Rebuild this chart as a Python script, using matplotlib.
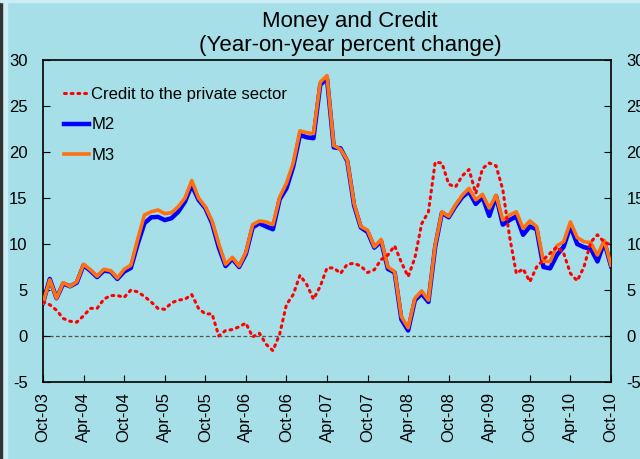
import numpy as np
import matplotlib.pyplot as plt
from matplotlib.patches import Rectangle

plt.rcParams['font.family'] = ['Liberation Sans', 'DejaVu Sans']
plt.rcParams['axes.unicode_minus'] = False

# monthly, Oct-03 .. Oct-10
credit = [3.7, 3.4, 2.8, 1.9, 1.6, 1.5, 2.2, 3.0, 3.0, 4.0,
          4.4, 4.4, 4.2, 5.0, 4.8, 4.3, 3.7, 3.0, 2.9, 3.6,
          3.9, 4.0, 4.5, 3.0, 2.4, 2.4, 0.0, 0.6, 0.7, 1.0,
          1.4, -0.1, 0.3, -0.9, -1.6, 0.2, 3.4, 4.5, 6.6, 5.6,
          4.0, 5.4, 7.4, 7.4, 6.8, 7.8, 7.9, 7.6, 6.9, 7.2,
          8.3, 8.8, 9.8, 8.0, 6.45, 8.5, 12.2, 13.5, 18.9, 18.8,
          16.5, 16.2, 17.4, 18.1, 15.5, 18.2, 18.8, 18.5, 15.9, 10.8,
          6.8, 7.3, 5.9, 7.5, 8.3, 9.0, 9.7, 9.0, 6.8, 6.0,
          7.5, 10.2, 11.0, 10.2, 9.9]
m2 = [3.6, 6.2, 4.1, 5.7, 5.4, 5.8, 7.7, 7.1, 6.4, 7.1,
      7.0, 6.2, 7.0, 7.4, 10.0, 12.25, 12.9, 12.95, 12.6, 12.8,
      13.5, 14.6, 16.4, 14.8, 13.9, 12.25, 9.6, 7.6, 8.4, 7.5,
      8.9, 11.8, 12.25, 11.9, 11.6, 14.85, 16.05, 18.4, 21.85, 21.6,
      21.5, 27.3, 28.0, 20.5, 20.4, 19.0, 14.2, 11.8, 11.3, 9.6,
      10.3, 7.3, 6.9, 1.8, 0.6, 3.9, 4.6, 3.7, 9.7, 13.4,
      12.9, 14.1, 15.1, 15.7, 14.35, 15.1, 13.05, 15.2, 12.1, 12.6,
      13.0, 11.0, 11.9, 11.6, 7.5, 7.35, 8.8, 9.7, 11.95, 10.0,
      9.65, 9.5, 8.1, 10.2, 7.6]
m3 = [3.6, 6.1, 4.1, 5.8, 5.4, 5.9, 7.8, 7.2, 6.5, 7.25,
      7.1, 6.3, 7.25, 7.7, 10.5, 13.15, 13.5, 13.7, 13.3, 13.4,
      14.05, 15.0, 16.9, 15.0, 14.05, 12.5, 10.0, 7.8, 8.55, 7.6,
      9.1, 12.1, 12.5, 12.4, 12.1, 15.1, 16.6, 18.8, 22.3, 22.1,
      22.0, 27.6, 28.3, 20.7, 20.3, 19.1, 14.4, 11.9, 11.5, 9.7,
      10.5, 7.5, 7.0, 2.1, 0.9, 4.1, 4.9, 3.9, 9.9, 13.5,
      13.0, 14.25, 15.3, 16.05, 14.8, 15.4, 13.9, 15.3, 12.6, 13.15,
      13.5, 11.7, 12.5, 11.9, 8.1, 8.1, 9.8, 10.25, 12.4, 10.7,
      10.25, 10.15, 8.8, 10.4, 7.7]
tick_labels = ['Oct-03', 'Apr-04', 'Oct-04', 'Apr-05', 'Oct-05', 'Apr-06',
               'Oct-06', 'Apr-07', 'Oct-07', 'Apr-08', 'Oct-08', 'Apr-09',
               'Oct-09', 'Apr-10', 'Oct-10']

bg = '#A6DFE8'
months = np.arange(len(m2))

fig = plt.figure(figsize=(6.4, 4.59), dpi=100, facecolor=bg)
# light strips at the left and top edge
fig.patches.append(Rectangle((0, 0), 7 / 640, 1, transform=fig.transFigure,
                             color='#CDEEF4', zorder=0))
fig.patches.append(Rectangle((0, 0), 1.5 / 640, 1, transform=fig.transFigure,
                             color='#333333', zorder=0))
fig.patches.append(Rectangle((0, 1 - 2 / 459), 1, 2 / 459, transform=fig.transFigure,
                             color='#CDEEF4', zorder=0))

ax = fig.add_axes([43 / 640, 1 - 382 / 459, 568 / 640, 322 / 459])
ax.set_facecolor(bg)

ax.axhline(0, color='#555555', lw=0.9, ls=(0, (3, 2)), zorder=1)
ax.plot(months, credit, color='#FF0000', lw=2.2, ls=(0, (0.6, 1.6)),
        dash_capstyle='round', label='Credit to the private sector', zorder=4)
ax.plot(months, m2, color='#0000FF', lw=3.2, label='M2', zorder=2)
ax.plot(months, m3, color='#FF7010', lw=2.6, label='M3', zorder=3)

ax.set_xlim(0, 84)
ax.set_ylim(-5, 30)
ax.set_yticks(np.arange(-5, 31, 5))
ax.set_xticks(np.arange(0, 85, 6))
ax.set_xticklabels(tick_labels, rotation=90)
ax.tick_params(axis='y', direction='in', length=5, pad=11, labelsize=12,
               right=True, labelright=True)
ax.tick_params(axis='x', direction='in', length=5, pad=7, labelsize=12)
for s in ax.spines.values():
    s.set_linewidth(1.2)

ax.legend(loc='upper left', frameon=False, fontsize=12, handlelength=1.5,
          handletextpad=0.12, labelspacing=0.95, borderaxespad=0,
          bbox_to_anchor=(0.026, 0.938))

fig.text(350 / 640, 1 - 21 / 459, 'Money and Credit',
         ha='center', va='center', fontsize=16)
fig.text(350 / 640, 1 - 46 / 459, '(Year-on-year percent change)',
         ha='center', va='center', fontsize=16)

fig.savefig('out.png', dpi=100, facecolor=bg)
